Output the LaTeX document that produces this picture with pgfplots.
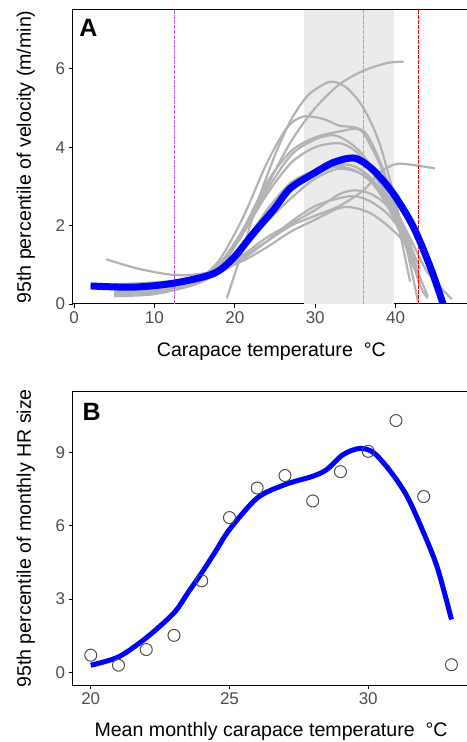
\documentclass[border=0pt]{standalone}
\usepackage{fontspec}
\setmainfont{Liberation Sans}
\usepackage{pgfplots}
\pgfplotsset{compat=1.18}

\definecolor{tickgray}{HTML}{4D4D4D}
\definecolor{curvegray}{HTML}{B3B3B3}
\definecolor{bandgray}{HTML}{EBEBEB}
\definecolor{lineblue}{HTML}{0000FF}
\definecolor{vpurple}{HTML}{B45CFF}
\definecolor{vorange}{HTML}{F0A030}
\definecolor{vred}{HTML}{FF0000}

\pgfplotsset{
  ggbox/.style={
    scale only axis,
    axis line style={black, line width=1bp},
    tick align=outside,
    major tick length=4bp,
    tick style={black, line width=0.8bp},
    xtick pos=bottom, ytick pos=left,
    ticklabel style={font=\fontsize{17bp}{20bp}\selectfont, text=tickgray},
    /pgf/number format/assume math mode=true,
    label style={font=\fontsize{19.6bp}{23bp}\selectfont},
  },
  gray curve/.style={curvegray, line width=2.2bp, smooth},
}

\begin{document}
\begin{tikzpicture}[x=1bp,y=1bp]

% ---------- panel A ----------
\begin{axis}[ggbox,
    at={(72.7bp,438bp)}, anchor=south west,
    width=397.3bp, height=294bp,
    xmin=-0.16, xmax=49.25, ymin=0, ymax=7.5,
    xtick={0,10,20,30,40}, ytick={0,2,4,6},
    xlabel={Carapace temperature \ °C},
    ylabel={95th percentile of velocity (m/min)},
    x label style={at={(axis description cs:0.5,-0.162)}, anchor=center},
    y label style={at={(axis description cs:-0.118,0.5)}, anchor=center},
]
\fill[bandgray] (axis cs:28.6,0) rectangle (axis cs:39.8,7.5);

\addplot[gray curve] coordinates {(5,0.4) (10,0.45) (15,0.6) (18,0.9) (21,1.8) (24,3.0) (27,4.15) (30,5.0) (33,5.6) (36,5.95) (39,6.15) (41,6.18)};
\addplot[gray curve] coordinates {(19,0.14) (21,1.4) (23,2.7) (25,3.8) (27,4.7) (29,5.3) (31,5.6) (32.3,5.67) (34,5.5) (36,5.0) (38,4.1) (40,2.6) (41.5,1.3) (42.8,0.05)};
\addplot[gray curve] coordinates {(5,0.35) (10,0.4) (15,0.6) (18,1.1) (21,2.2) (24,3.6) (26.5,4.5) (28.5,4.78) (31,4.72) (33,4.55) (35,4.5) (36.5,4.3) (38.5,3.4) (40,2.3) (41.8,0.57)};
\addplot[gray curve] coordinates {(5,0.3) (10,0.35) (15,0.55) (18,1.0) (21,1.9) (24,3.1) (27,3.9) (30,4.25) (33,4.4) (35.5,4.45) (37,4.0) (39,3.1) (41,1.8) (43,0.5) (44,0.15)};
\addplot[gray curve] coordinates {(5,0.25) (10,0.3) (15,0.5) (18,0.95) (21,1.8) (24,2.9) (27,3.8) (30,4.2) (32.5,4.3) (35,4.0) (37,3.5) (39.5,2.6) (42,1.6) (44,0.8) (47,0.12)};
\addplot[gray curve] coordinates {(2,0.45) (10,0.35) (15,0.55) (18,1.0) (21,1.8) (24,2.8) (27,3.6) (30,4.0) (33,4.1) (35,3.9) (37,3.4) (40,2.3) (42,1.5)};
\addplot[gray curve] coordinates {(5,0.3) (10,0.3) (15,0.5) (18,0.8) (21,1.2) (24,1.6) (27,2.0) (30,2.25) (33,2.5) (36,2.9) (38,3.35) (40,3.57) (42,3.55) (44.9,3.46)};
\addplot[gray curve] coordinates {(5,0.4) (10,0.45) (15,0.6) (18,0.9) (21,1.5) (24,2.3) (27,2.9) (30,3.3) (33,3.55) (35,3.5) (37,3.2) (39,2.6) (41,1.8) (43,0.7) (44,0.2)};
\addplot[gray curve] coordinates {(5,0.2) (10,0.25) (15,0.5) (18,0.85) (21,1.4) (24,2.1) (27,2.7) (30,3.2) (33,3.45) (36,3.3) (38,2.9) (40,2.2) (42,1.2) (43,0.5)};
\addplot[gray curve] coordinates {(5,0.3) (10,0.3) (15,0.55) (18,0.85) (21,1.25) (24,1.7) (27,2.05) (30,2.4) (33,2.8) (35,2.9) (37,2.8) (39,2.5) (41,1.9) (43,0.9)};
\addplot[gray curve] coordinates {(5,0.4) (10,0.45) (15,0.6) (18,0.8) (21,1.15) (24,1.6) (27,2.1) (30,2.5) (33,2.7) (35,2.75) (37,2.6) (39,2.3) (41,1.8)};
\addplot[gray curve] coordinates {(5,0.5) (10,0.55) (15,0.65) (18,0.85) (21,1.1) (24,1.45) (27,1.85) (30,2.15) (33,2.45) (35,2.45) (37,2.3) (39,2.0) (41,1.6) (42.5,1.1)};
\addplot[gray curve] coordinates {(4,1.14) (8,0.9) (12,0.75) (15,0.75) (18,0.9) (21,1.5) (24,2.4) (27,3.1) (30,3.4) (33,3.5) (35,3.4) (37,3.1) (39,2.5) (41,1.6) (42.3,0.9)};

\addplot[vpurple, line width=1bp, dash pattern=on 3.5bp off 1.5bp] coordinates {(12.45,0) (12.45,7.5)};
\addplot[vorange, line width=1bp, dash pattern=on 3.5bp off 1.5bp] coordinates {(36.0,0) (36.0,7.5)};
\addplot[vred, line width=1bp, dash pattern=on 3.5bp off 1.5bp] coordinates {(42.8,0) (42.8,7.5)};

\addplot[lineblue, line width=7bp, smooth] coordinates {
  (2.07,0.46) (7.4,0.43) (12.35,0.53) (17.3,0.77) (19.8,1.17) (22.3,1.80)
  (24.8,2.40) (26.9,2.95) (29.8,3.33) (32.25,3.61) (34.9,3.72) (37.2,3.42)
  (39.7,2.82) (42.2,1.97) (44.3,0.95) (45.9,0.0) (46.2,-0.3)
};

\node[font=\fontsize{25bp}{28bp}\selectfont\bfseries, anchor=center]
  at ([xshift=15.6bp,yshift=-18.3bp]rel axis cs:0,1) {A};
\end{axis}

% ---------- panel B ----------
\begin{axis}[ggbox,
    at={(72.7bp,57bp)}, anchor=south west,
    width=396.8bp, height=293.3bp,
    xmin=19.35, xmax=33.65, ymin=-0.52, ymax=11.48,
    xtick={20,25,30}, ytick={0,3,6,9},
    xlabel={Mean monthly carapace temperature \ °C},
    ylabel={95th percentile of monthly HR size},
    x label style={at={(axis description cs:0.5,-0.159)}, anchor=center},
    y label style={at={(axis description cs:-0.118,0.5)}, anchor=center},
]
\addplot[only marks, mark=o, mark size=6bp, mark options={tickgray, line width=1bp}] coordinates {
  (20,0.70) (21,0.29) (22,0.93) (23,1.51) (24,3.74) (25,6.33) (26,7.54)
  (27,8.05) (28,7.01) (29,8.21) (30,9.04) (31,10.30) (32,7.19) (33,0.31)
};
\addplot[lineblue, line width=5bp, smooth] coordinates {
  (20,0.29) (21,0.63) (22,1.41) (23,2.43) (23.5,3.25) (24,4.07) (24.5,4.95)
  (25,5.84) (26,7.13) (27,7.68) (28,8.02) (28.5,8.29) (29.1,8.91) (29.7,9.16)
  (30.2,8.98) (30.8,8.22) (31.4,7.20) (32,5.70) (32.5,4.25) (33,2.16)
};
\node[font=\fontsize{25bp}{28bp}\selectfont\bfseries, anchor=center]
  at ([xshift=19bp,yshift=-20bp]rel axis cs:0,1) {B};
\end{axis}

\pgfresetboundingbox
\useasboundingbox (0,0) rectangle (467bp,742bp);
\end{tikzpicture}
\end{document}
